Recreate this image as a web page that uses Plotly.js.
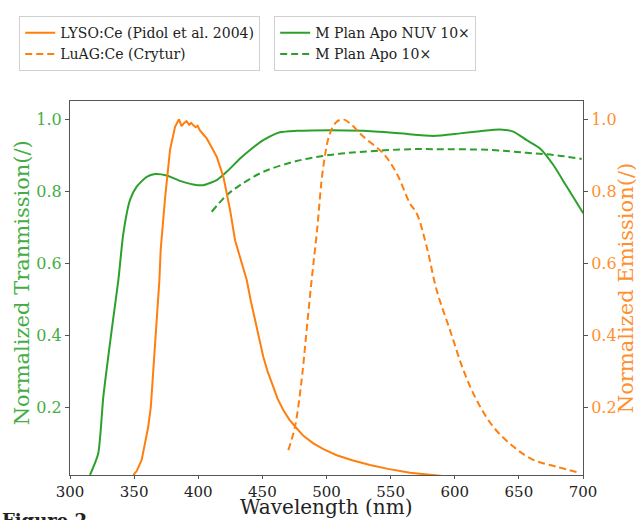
<!DOCTYPE html>
<html>
<head>
<meta charset="utf-8">
<script src="https://cdn.plot.ly/plotly-3.0.1.min.js"></script>
<style>html,body{margin:0;padding:0;background:#fff;}#chart{width:638px;height:520px;}</style>
</head>
<body>
<div id="chart"></div>
<script>
// M Plan Apo NUV 10x transmission
const nuvX = [315.6, 322, 326, 332.5, 337.7, 341.6, 346.8, 352, 359.8, 366.3, 375.4, 385.8, 396, 404, 414.4, 422.2, 432.6, 440.4, 450.7, 463.7, 476.7, 502.7, 528.7, 557.3, 583.3, 604.1, 619.7, 635.3, 645.7, 656.1, 666.5, 676.9, 687.3, 700.2];
const nuvY = [0.011, 0.071, 0.229, 0.414, 0.553, 0.683, 0.776, 0.813, 0.840, 0.848, 0.844, 0.829, 0.819, 0.817, 0.831, 0.854, 0.891, 0.915, 0.942, 0.964, 0.968, 0.970, 0.968, 0.961, 0.954, 0.961, 0.967, 0.972, 0.966, 0.942, 0.919, 0.873, 0.813, 0.739];
// M Plan Apo 10x transmission
const apoX = [410.5, 422.2, 432.6, 450.7, 476.7, 502.7, 528.7, 565.1, 583.3, 627.5, 656, 676.9, 699];
const apoY = [0.743, 0.789, 0.817, 0.854, 0.884, 0.901, 0.910, 0.917, 0.917, 0.915, 0.907, 0.901, 0.890];
// LYSO:Ce emission
const lysoX = [349.4, 352, 355.9, 358, 361, 363, 364.5, 367, 369.7, 370.7, 374, 378, 381.9, 385, 387, 389, 390.9, 393, 394.5, 396, 398, 399.5, 401.2, 403, 406.6, 410, 414.4, 419.6, 424.8, 428.7, 433, 437.8, 441, 444.2, 447, 450.7, 454, 458.5, 462, 466.3, 471, 476.7, 482, 489.7, 498, 508, 520, 533.9, 548, 565.1, 578, 591, 620, 700];
const lysoY = [0.011, 0.022, 0.053, 0.090, 0.145, 0.200, 0.275, 0.414, 0.553, 0.637, 0.776, 0.915, 0.979, 1.0, 0.981, 0.990, 0.995, 0.985, 0.990, 0.984, 0.978, 0.982, 0.970, 0.962, 0.947, 0.925, 0.896, 0.840, 0.748, 0.664, 0.610, 0.553, 0.495, 0.442, 0.395, 0.340, 0.300, 0.256, 0.222, 0.192, 0.165, 0.141, 0.120, 0.099, 0.082, 0.066, 0.052, 0.039, 0.028, 0.017, 0.012, 0.008, 0.003, 0.0];
// LuAG:Ce emission
const luagX = [470.2, 475.4, 480.6, 484.5, 488.4, 492.4, 497.5, 502.7, 507.9, 513.1, 518.3, 528.7, 544.3, 554.7, 565.1, 570.3, 578.1, 585.9, 596.3, 606.7, 617.1, 630, 645.7, 661.3, 679.5, 697.7];
const luagY = [0.080, 0.145, 0.275, 0.414, 0.553, 0.683, 0.868, 0.961, 0.993, 1.0, 0.989, 0.952, 0.905, 0.850, 0.766, 0.739, 0.646, 0.525, 0.414, 0.303, 0.219, 0.145, 0.090, 0.053, 0.034, 0.017];
const xTicks = [300, 350, 400, 450, 500, 550, 600, 650, 700];
const yTicks = [0.2, 0.4, 0.6, 0.8, 1.0];

const ORANGE = '#ff7f0e', GREEN = '#2ca02c';
const GTXT = '#45ad45', OTXT = '#ff9030';
const FONT = 'DejaVu Serif';

const traces = [
  {x: lysoX, y: lysoY, yaxis: 'y2', mode: 'lines', name: 'LYSO:Ce (Pidol et al. 2004)', line: {color: ORANGE, width: 2}, legend: 'legend'},
  {x: luagX, y: luagY, yaxis: 'y2', mode: 'lines', name: 'LuAG:Ce (Crytur)', line: {color: ORANGE, width: 2, dash: '7px,4px', shape: 'spline'}, legend: 'legend'},
  {x: nuvX, y: nuvY, yaxis: 'y', mode: 'lines', name: 'M Plan Apo NUV 10×', line: {color: GREEN, width: 2, shape: 'spline', smoothing: 0.6}, legend: 'legend2'},
  {x: apoX, y: apoY, yaxis: 'y', mode: 'lines', name: 'M Plan Apo 10×', line: {color: GREEN, width: 2, dash: '7px,4px', shape: 'spline'}, legend: 'legend2'}
];

const legendBase = {
  bgcolor: 'rgba(255,255,255,0.8)', bordercolor: '#d0d0d0', borderwidth: 1,
  font: {family: FONT, size: 14, color: '#222'}, xanchor: 'left', yanchor: 'top',
  tracegroupgap: 0
};

const layout = {
  width: 638, height: 520,
  margin: {l: 70, r: 55, t: 101, b: 45},
  paper_bgcolor: '#fff', plot_bgcolor: '#fff',
  font: {family: FONT},
  showlegend: true,
  legend: Object.assign({}, legendBase, {x: -0.099, y: 1.227}),
  legend2: Object.assign({}, legendBase, {x: 0.398, y: 1.227}),
  xaxis: {
    range: [300, 700], tickvals: xTicks, ticktext: xTicks.map(String),
    showgrid: false, zeroline: false, showline: true, linecolor: '#555', linewidth: 1, mirror: true,
    ticks: 'outside', ticklen: 3, tickcolor: '#555',
    tickfont: {family: FONT, size: 15, color: '#222'}
  },
  yaxis: {
    range: [0.011, 1.051], tickvals: yTicks, ticktext: yTicks.map(v => v.toFixed(1)),
    showgrid: false, zeroline: false, showline: true, linecolor: '#555', linewidth: 1,
    ticks: 'outside', ticklen: 4, tickcolor: '#555',
    tickfont: {family: FONT, size: 16, color: GTXT}
  },
  yaxis2: {
    range: [0.011, 1.051], tickvals: yTicks, ticktext: yTicks.map(v => v.toFixed(1)),
    overlaying: 'y', side: 'right',
    showgrid: false, zeroline: false, showline: true, linecolor: '#555', linewidth: 1,
    ticks: 'outside', ticklen: 4, tickcolor: '#555',
    tickfont: {family: FONT, size: 16, color: OTXT},
    title: {text: 'Normalized Emission(/)', font: {family: FONT, size: 21, color: OTXT}, standoff: 4}
  },
  annotations: [
    {
      text: 'Normalized Tranmission(/)', xref: 'paper', yref: 'paper', x: -0.0936, y: 0.515,
      xanchor: 'center', yanchor: 'middle', textangle: -90, showarrow: false,
      font: {family: FONT, size: 21, color: GTXT}
    },
    {
      text: 'Wavelength (nm)', xref: 'paper', yref: 'paper', x: 0.5, y: -0.085,
      xanchor: 'center', yanchor: 'middle', showarrow: false, borderpad: 0,
      font: {family: FONT, size: 20, color: '#222'}
    },
    {
      text: '<b>Figure 2</b>', xref: 'paper', yref: 'paper', x: -0.137, y: -0.087,
      xanchor: 'left', yanchor: 'top', showarrow: false,
      font: {family: FONT, size: 18, color: '#222'}
    }
  ]
};

Plotly.newPlot('chart', traces, layout, {displayModeBar: false, staticPlot: true});
</script>
</body>
</html>
